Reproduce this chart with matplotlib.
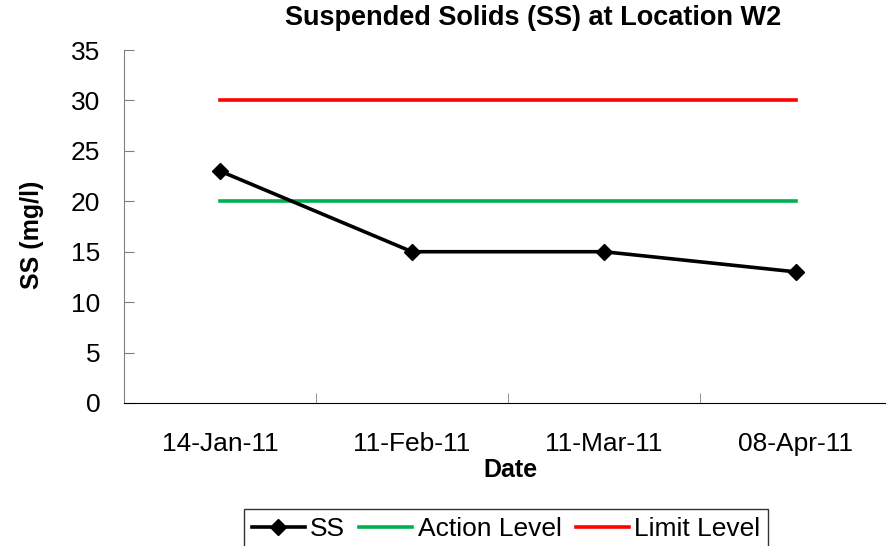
import matplotlib
matplotlib.use("Agg")
import matplotlib.pyplot as plt

plt.rcParams['font.family'] = ['Liberation Sans', 'DejaVu Sans']

dates = ["14-Jan-11", "11-Feb-11", "11-Mar-11", "08-Apr-11"]
ss = [23, 15, 15, 13]
action_level = [20, 20, 20, 20]
limit_level = [30, 30, 30, 30]

W, H = 887, 546
fig = plt.figure(figsize=(W / 100, H / 100), dpi=100)
ax = fig.add_axes([124 / W, 1 - 403 / H, 768 / W, 353 / H])

x = list(range(len(dates)))
ax.plot(x, ss, color="black", lw=2.6, marker="D", markersize=8, label="SS", zorder=3)
ax.plot(x, action_level, color="#00b050", lw=2.6, label="Action Level")
ax.plot(x, limit_level, color="#ff0000", lw=2.6, label="Limit Level")

ax.set_xlim(-0.5, 3.5)
ax.set_ylim(0, 35)
ax.set_yticks(range(0, 36, 5))
ax.set_xticks(x)
ax.set_xticklabels(dates)
ax.set_xticks([0.5, 1.5, 2.5], minor=True)
ax.tick_params(axis="x", which="major", length=0, pad=21, labelsize=19)
ax.tick_params(axis="x", which="minor", length=7, direction="in", color="#808080")
ax.tick_params(axis="y", length=7, direction="in", color="#808080", labelsize=19, pad=17)

for side in ["top", "right"]:
    ax.spines[side].set_visible(False)
ax.spines["left"].set_color("#808080")
ax.spines["bottom"].set_color("black")

fig.text(533 / W, 1 - 18 / H, "Suspended Solids (SS) at Location W2", fontsize=19.5,
         fontweight="bold", ha="center", va="center")
fig.text(32 / W, 1 - 235 / H, "SS (mg/l)", fontsize=18, fontweight="bold",
         rotation=90, ha="center", va="center")
fig.text(510 / W, 1 - 470 / H, "Date", fontsize=18, fontweight="bold",
         ha="center", va="center")

leg = fig.legend(loc="upper left", bbox_to_anchor=(244 / W, 1 - 509 / H), ncol=3,
                 frameon=True, fancybox=False, edgecolor="black", fontsize=19,
                 handlelength=2.0, handletextpad=0.2, columnspacing=0.55,
                 borderpad=0.3, borderaxespad=0)
leg.get_frame().set_linewidth(1.0)

fig.savefig("out.png", dpi=100)
